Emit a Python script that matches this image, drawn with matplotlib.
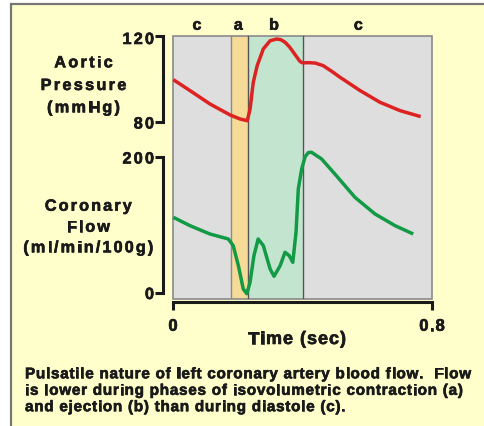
import matplotlib
matplotlib.use("Agg")
import matplotlib.pyplot as plt
import matplotlib.patheffects as pe
from matplotlib.patches import Rectangle
from matplotlib.font_manager import FontProperties, findfont, get_font

# ---------------- data ----------------
phase_names = ["c", "a", "b", "c"]
phase_edges = [0.0, 0.179, 0.2317, 0.40, 0.80]
phase_label_t = [0.074, 0.2017, 0.312, 0.5725]

p_time = [0.001, 0.0525, 0.114, 0.176, 0.207, 0.2295, 0.238, 0.248, 0.260,
          0.279, 0.300, 0.320, 0.333, 0.346, 0.360, 0.372, 0.392, 0.40, 0.42,
          0.44, 0.464, 0.490, 0.516, 0.578, 0.639, 0.701, 0.765]
pressure = [99.7, 94.6, 88.4, 83.3, 81.4, 80.6, 86.0, 98.5, 106.2,
            114.0, 117.8, 118.6, 118.3, 117.1, 114.9, 112.4, 108.2, 107.5, 107.6,
            107.4, 106.2, 103.6, 100.8, 94.6, 89.2, 85.3, 82.5]

f_time = [0.001, 0.0525, 0.114, 0.171, 0.186, 0.202, 0.217, 0.228, 0.238,
          0.250, 0.263, 0.279, 0.300, 0.312, 0.331, 0.346, 0.359, 0.370, 0.380,
          0.387, 0.3975, 0.408, 0.418, 0.428, 0.459, 0.500, 0.562, 0.624, 0.686,
          0.742]
flow = [111.3, 99.0, 86.8, 79.4, 69.6, 40.1, 5.9, -1.0, 15.7,
        54.9, 79.4, 69.6, 35.3, 24.6, 40.1, 59.9, 54.9, 45.1, 89.3,
        152.9, 182.4, 200.4, 206.5, 206.9, 197.1, 175.0, 140.7, 116.2, 99.0,
        86.8]

p_ticks = [80, 120]
f_ticks = [0, 200]
x_ticks = [0, 0.8]
x_ticklabels = ["0", "0.8"]

caption = ["Pulsatile nature of left coronary artery blood flow.  Flow",
           "is lower during phases of isovolumetric contraction (a)",
           "and ejection (b) than during diastole (c)."]

# ---------------- style ----------------
W, H = 484, 427
DPI = 100
YELLOW = "#ffffcc"
GRAY = "#dedede"
ORANGE = "#f5da98"
GREENBAND = "#c3e5d0"
RED = "#dd2222"
GREEN = "#139a45"
INK = "#1a1a1a"
FAMILY = "Liberation Sans"

fig = plt.figure(figsize=(W / DPI, H / DPI), dpi=DPI)
fig.patch.set_facecolor("white")
fig.add_artist(Rectangle((11 / W, -0.1), 2.0, (H - 5) / H + 0.1,
                         transform=fig.transFigure, facecolor=YELLOW,
                         edgecolor="#777777", lw=1.6, zorder=-5))

STROKE = [pe.withStroke(linewidth=0.45, foreground=INK)]


def fx(px):
    return px / W


def fy(py):
    return 1 - py / H


def spaced(x, y, s, size, track, ha="center", weight="bold", color=INK):
    """Draw text at pixel coords (baseline y) with extra letter spacing."""
    fp = FontProperties(family=FAMILY, weight=weight, size=size)
    font = get_font(findfont(fp))
    font.set_size(size, DPI)
    advs = []
    for c in s:
        g = font.load_char(ord(c))
        advs.append(g.linearHoriAdvance / 65536)
    total = sum(advs) + track * (len(s) - 1)
    if ha == "center":
        x0 = x - total / 2
    elif ha == "right":
        x0 = x - total
    else:
        x0 = x
    cx = x0
    for c, a in zip(s, advs):
        if c != " ":
            fig.text(fx(cx), fy(y), c, fontproperties=fp, color=color,
                     ha="left", va="baseline", path_effects=STROKE)
        cx += a + track


# axes geometry (pixels)
L, R = 173, 432
bg_top, bg_bot = 37, 300
p_top, p_bot = 37, 123
f_top, f_bot = 158, 294

ax_bg = fig.add_axes([fx(L), fy(bg_bot), (R - L) / W, (bg_bot - bg_top) / H])
ax_bg.set_facecolor(GRAY)
ax_bg.set_xlim(phase_edges[0], phase_edges[-1])
ax_bg.set_ylim(0, 1)
ax_bg.axvspan(phase_edges[1], phase_edges[2], color=ORANGE, lw=0)
ax_bg.axvspan(phase_edges[2], phase_edges[3], color=GREENBAND, lw=0)
ax_bg.axvline(phase_edges[1], color="#8a8a8a", lw=1.0)
ax_bg.axvline(phase_edges[2], color="#555555", lw=1.0)
ax_bg.axvline(phase_edges[3], color="#555555", lw=1.0)
ax_bg.add_patch(Rectangle((0, 0), 1, 1, transform=ax_bg.transAxes, fill=False,
                          edgecolor="#8a8a8a", lw=1.2, clip_on=False))
for sp in ["left", "right", "top"]:
    ax_bg.spines[sp].set_visible(False)
ax_bg.spines["bottom"].set_position(("outward", 2.0))
ax_bg.spines["bottom"].set_linewidth(2.2)
ax_bg.spines["bottom"].set_color(INK)
ax_bg.set_yticks([])
ax_bg.set_xticks(x_ticks)
ax_bg.set_xticklabels([])
ax_bg.tick_params(axis="x", direction="out", length=5.5, width=2.2, color=INK)

for name, t in zip(phase_names, phase_label_t):
    xpix = L + (t - phase_edges[0]) / (phase_edges[-1] - phase_edges[0]) * (R - L)
    spaced(xpix, 30.7, name, 11.5, 0)

for tv, lab in zip(x_ticks, x_ticklabels):
    xpix = L + tv / 0.8 * (R - L)
    spaced(xpix, 331.7, lab, 12.0, 1.2)
spaced(297, 345, "Time (sec)", 13.0, 1.0)


def curve_axes(top, bot, ylim, ticks):
    ax = fig.add_axes([fx(L), fy(bot), (R - L) / W, (bot - top) / H])
    ax.patch.set_visible(False)
    ax.set_xlim(phase_edges[0], phase_edges[-1])
    ax.set_ylim(*ylim)
    for sp in ["right", "top", "bottom"]:
        ax.spines[sp].set_visible(False)
    ax.spines["left"].set_position(("outward", 7.2))
    ax.spines["left"].set_linewidth(2.2)
    ax.spines["left"].set_color(INK)
    ax.set_xticks([])
    ax.set_yticks(ticks)
    ax.set_yticklabels([])
    ax.tick_params(axis="y", direction="out", length=5.5, width=2.2, color=INK)
    return ax


ax_p = curve_axes(p_top, p_bot, (80, 120), p_ticks)
ax_p.plot(p_time, pressure, color=RED, lw=2.5, solid_joinstyle="round",
          solid_capstyle="butt", clip_on=False)
ax_f = curve_axes(f_top, f_bot, (0, 200), f_ticks)
ax_f.plot(f_time, flow, color=GREEN, lw=2.5, solid_joinstyle="round",
          solid_capstyle="butt", clip_on=False)

# y tick labels
spaced(154, 45, "120", 11.7, 2.2, ha="right")
spaced(154, 129.5, "80", 11.7, 2.2, ha="right")
spaced(154, 164.5, "200", 11.7, 2.2, ha="right")
spaced(154, 300, "0", 11.7, 2.2, ha="right")

# y axis titles
for txt, yb in zip(["Aortic", "Pressure", "(mmHg)"], [68.3, 91.0, 113.3]):
    spaced(83.5, yb, txt, 11.7, 2.3)
for txt, yb in zip(["Coronary", "Flow", "(ml/min/100g)"], [211.7, 232.7, 253.3]):
    spaced(88.3, yb, txt, 11.7, 2.1)

# caption
for txt, yb in zip(caption, [379.3, 395.8, 412.2]):
    spaced(25, yb, txt, 11.0, 0.75, ha="left")

fig.savefig("out.png", dpi=DPI, facecolor=fig.get_facecolor())
